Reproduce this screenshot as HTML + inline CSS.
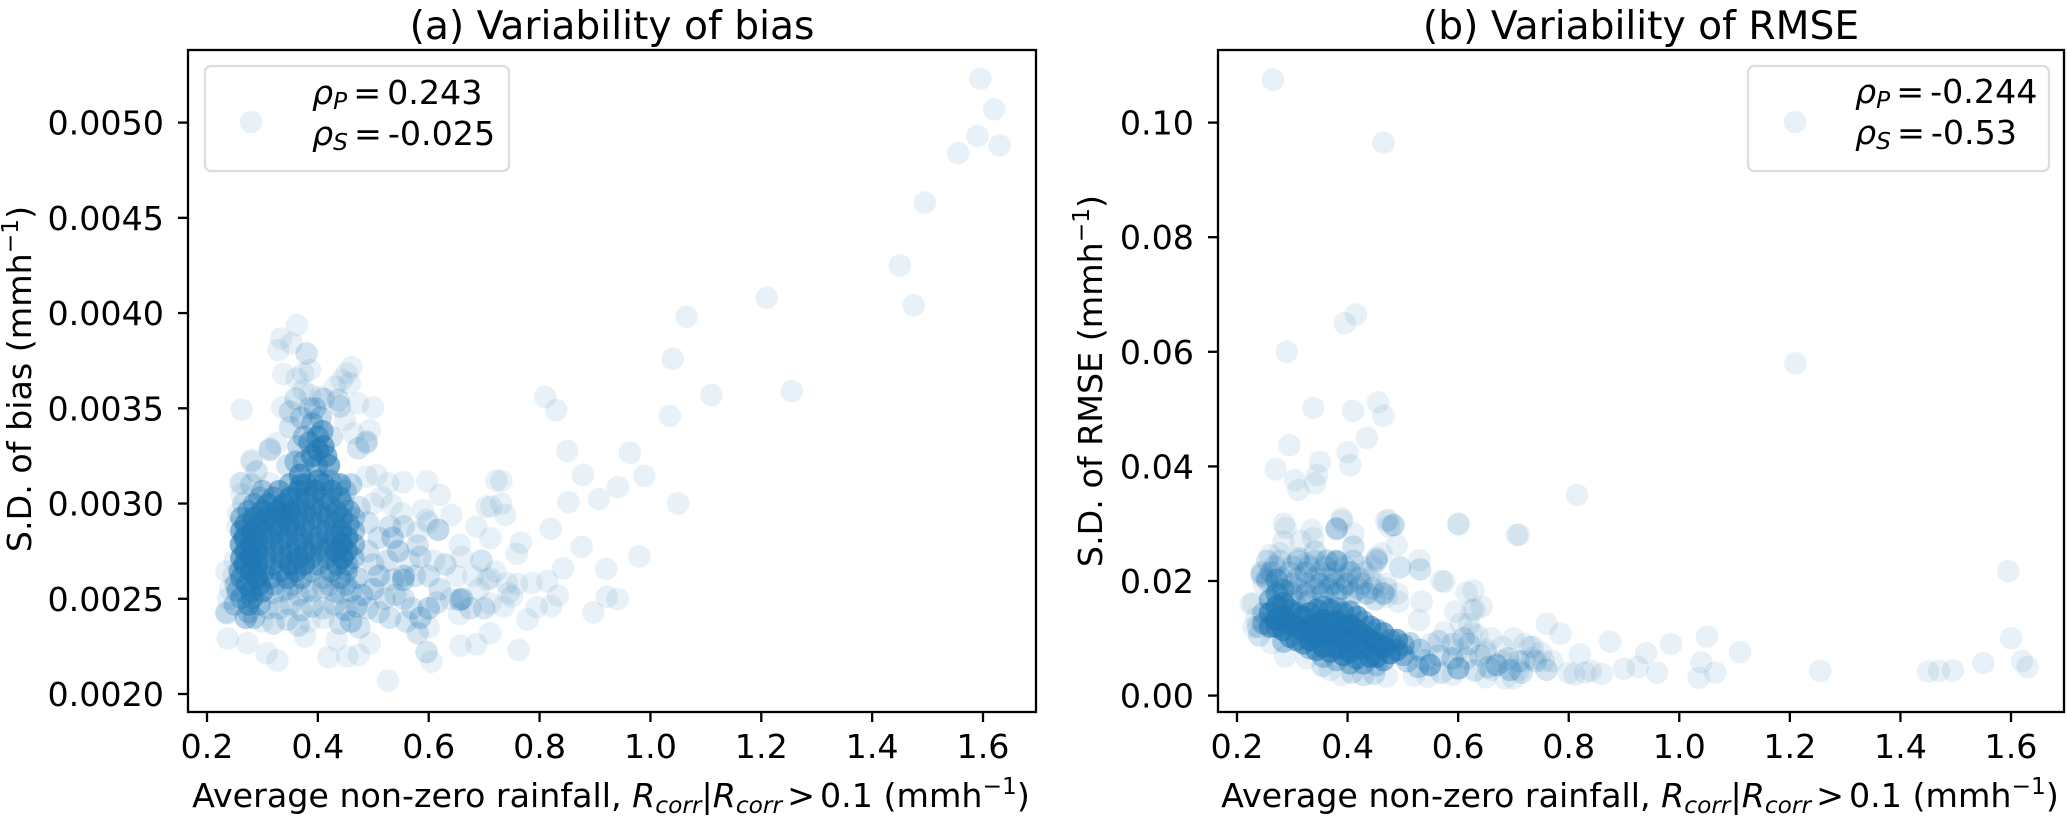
<!DOCTYPE html>
<html lang="en">
<head>
<meta charset="utf-8">
<title>Variability of bias and RMSE</title>
<style>
html,body{margin:0;padding:0;background:#fff;width:2067px;height:817px;overflow:hidden}
svg{display:block}
text{font-family:"DejaVu Sans","Liberation Sans",sans-serif;fill:#000}
.tick{font-size:33.3px}
.lab{font-size:33.3px}
.ttl{font-size:39.2px}
.leg{font-size:33.3px}
.it{font-style:italic}
</style>
</head>
<body>
<svg id="fig" xmlns="http://www.w3.org/2000/svg" width="2067" height="817" viewBox="0 0 2067 817">
  <rect width="2067" height="817" fill="#fff"/>
  <g id="marks-a"></g>
  <g id="marks-b"></g>
  <g id="ticks-a"></g>
  <g id="ticks-b"></g>
  <rect x="188" y="50" width="848" height="662" fill="none" stroke="#000" stroke-width="2.3"/>
  <rect x="1218" y="50" width="846" height="662" fill="none" stroke="#000" stroke-width="2.3"/>

  <text class="ttl" x="612" y="39" text-anchor="middle">(a) Variability of bias</text>
  <text class="ttl" x="1641" y="39" text-anchor="middle">(b) Variability of RMSE</text>

  <text class="lab" x="611" y="807" text-anchor="middle">Average non-zero rainfall, <tspan class="it">R</tspan><tspan class="it" font-size="23.3" dy="6">corr</tspan><tspan dy="-6">|</tspan><tspan class="it">R</tspan><tspan class="it" font-size="23.3" dy="6">corr</tspan><tspan dy="-6" dx="5">&gt;</tspan><tspan dx="5">0.1 (mmh</tspan><tspan font-size="23.3" dy="-13">−1</tspan><tspan dy="13">)</tspan></text>
  <text class="lab" x="1640" y="807" text-anchor="middle">Average non-zero rainfall, <tspan class="it">R</tspan><tspan class="it" font-size="23.3" dy="6">corr</tspan><tspan dy="-6">|</tspan><tspan class="it">R</tspan><tspan class="it" font-size="23.3" dy="6">corr</tspan><tspan dy="-6" dx="5">&gt;</tspan><tspan dx="5">0.1 (mmh</tspan><tspan font-size="23.3" dy="-13">−1</tspan><tspan dy="13">)</tspan></text>

  <text class="lab" text-anchor="middle" transform="translate(31 379) rotate(-90)">S.D. of bias (mmh<tspan font-size="23.3" dy="-13">−1</tspan><tspan dy="13">)</tspan></text>
  <text class="lab" text-anchor="middle" transform="translate(1102 381) rotate(-90)">S.D. of RMSE (mmh<tspan font-size="23.3" dy="-13">−1</tspan><tspan dy="13">)</tspan></text>

  <g>
    <rect x="205" y="66" width="304" height="105" rx="6" fill="#fff" fill-opacity="0.8" stroke="#ddd" stroke-width="2.3"/>
    <circle cx="251" cy="122" r="11.3" fill="#1f77b4" fill-opacity="0.1"/>
    <text class="leg" x="312" y="104"><tspan class="it">ρ</tspan><tspan class="it" font-size="23.3" dy="5">P</tspan><tspan dy="-5" dx="6">=</tspan><tspan dx="6">0.243</tspan></text>
    <text class="leg" x="312" y="145"><tspan class="it">ρ</tspan><tspan class="it" font-size="23.3" dy="5">S</tspan><tspan dy="-5" dx="6">=</tspan><tspan dx="6">-0.025</tspan></text>
  </g>
  <g>
    <rect x="1748" y="66" width="301" height="105" rx="6" fill="#fff" fill-opacity="0.8" stroke="#ddd" stroke-width="2.3"/>
    <circle cx="1795" cy="122" r="11.3" fill="#1f77b4" fill-opacity="0.1"/>
    <text class="leg" x="1855" y="103"><tspan class="it">ρ</tspan><tspan class="it" font-size="23.3" dy="5">P</tspan><tspan dy="-5" dx="6">=</tspan><tspan dx="6">-0.244</tspan></text>
    <text class="leg" x="1855" y="144"><tspan class="it">ρ</tspan><tspan class="it" font-size="23.3" dy="5">S</tspan><tspan dy="-5" dx="6">=</tspan><tspan dx="6">-0.53</tspan></text>
  </g>
</svg>
<script>
const xTickLabels = ['0.2','0.4','0.6','0.8','1.0','1.2','1.4','1.6'];
const biasYTickLabels = ['0.0020','0.0025','0.0030','0.0035','0.0040','0.0045','0.0050'];
const rmseYTickLabels = ['0.00','0.02','0.04','0.06','0.08','0.10'];

/* Panel (a): average rainfall, S.D. of bias, and number of stations overlapping at that spot (default 1) */
const biasRain = [
.3497,.3797,.4097,.4397,.4600,
.2950,.3200,.3500,.3800,.4100,.4400,
.2750,.3000,.3250,.3500,.3780,.4050,.4330,.4560,
.2700,.2950,.3220,.3480,.3750,.4020,.4300,.4550,
.2680,.2900,.3180,.3450,.3720,.4000,.4300,.4530,
.2700,.2900,.3200,.3500,.3780,.4050,.4320,.4520,
.2680,.2900,.3180,.3500,.3750,.4000,.4350,.4530,
.2620,.2900,.3150,.3450,.3700,.4100,.4400,.4700,
.2550,.2800,.3000,.3350,.3800,.4300,.4600,
.2500,.2750,.2950,
.2700,.2850,
.4000,.4100,.3900,.4200,.3980,.3680,.3750,.4220,.3650,.3500,.3900,.4050,.3700,.3850,.4100,.3600,.3450,.4400,
.3000,.3300,.3650,.3950,.4250,.4500,
.2850,.3100,.3380,.3650,.3920,.4200,.4450,
.2620,.2850,.3100,.3370,.3630,.3900,.4180,.4430,.4650,
.2620,.2820,.3050,.3320,.3600,.3870,.4160,.4420,.4650,
.2610,.2800,.3050,.3330,.3620,.3920,.4180,.4430,.4650,
.2620,.2800,.3050,.3340,.3640,.3880,.4180,.4440,.4640,
.2590,.2800,.3030,.3320,.3600,.3880,.4240,.4520,
.2520,.2720,.2950,.3200,.3550,.4200,.4500,
.2620,.2820,
.2750,
.4000,.4080,.3850,.4150,.3700,.4000,.3600,.3950,.3750,.4250,
.31,.33,.35,.37,.39,.41,.43,.45,.47,.49,
.30,.32,.345,.365,.385,.41,.44,.46,.475,
.32,.345,.365,.39,.41,.44,.48,.50,
.51,.535,.50,.525,.545,.49,.51,.535,.49,.475,.50,
.52,.54,.555,.57,.585,.60,.615,.56,.58,.60,.53,.51,
.555,.575,.60,.62,.64,.66,.675,.655,.69,.70,
.565,.585,.61,.58,.63,.65,.68,.705,.66,.695,
.53,.555,.58,.60,.6171,.5539,.656,.596,
.3797,.3496,.4368,.4398,.4879,.4728,.3136,.2895,.2655,.2800,.2354,
.3622,.3334,.3526,.3286,.3376,.3857,.3617,.3737,.2625,.4608,.4518,.4428,.4578,.4308,.5000,.4728,.3358,.3737,.3857,.4037,.4488,.4939,.4638,.2805,.3256,.2595,.5059,.5269,.5149,.4879,
.2560,.2550,.2500,.2480,.2420,.2350,.2380,.2620,.2805,.3135,.2625,.3135,.2354,.4879,
.5263,.2372,.2727,.3075,.3267,.4193,.4530,.4740,.3767,.4337,.4938,.605,.6573,.6862,.5539,.5972,.6201,.5329,.5509,.5900,.6411,.5960,.686,.7042,.6561,
.850,.963,.878,.989,.941,.852,.907,1.050,.820,.876,.980,.920,.842,.814,.833,.821,.921,.941,.897,.795,.778,.762,.786,.766,.759,.731,.722,.738,.731,.713,.711,.720,.711,.744,.750,.735,.760,.741,.711,.711,
1.595,1.62,1.59,1.63,1.555,1.495,1.45,1.475,1.21,1.065,1.04,1.11,1.255,1.035,.81,.83
];
const biasSpread = [
.00310,.00310,.00310,.00310,.00310,
.00303,.00303,.00303,.00303,.00303,.00303,
.00296,.00296,.00296,.00296,.00296,.00296,.00296,.00296,
.00289,.00289,.00289,.00289,.00289,.00289,.00289,.00289,
.00282,.00282,.00282,.00282,.00282,.00282,.00282,.00282,
.00275,.00275,.00275,.00275,.00275,.00275,.00275,.00275,
.00268,.00268,.00268,.00268,.00268,.00268,.00268,.00268,
.00261,.00261,.00261,.00261,.00261,.00261,.00261,.00261,
.00254,.00254,.00254,.00254,.00254,.00254,.00254,
.00247,.00247,.00247,
.00240,.00240,
.00335,.00330,.00325,.00320,.00320,.00315,.00322,.00312,.00330,.00340,.00342,.00345,.00345,.00350,.00355,.00355,.00320,.00310,
.003065,.003065,.003065,.003065,.003065,.003065,
.002995,.002995,.002995,.002995,.002995,.002995,.002995,
.002925,.002925,.002925,.002925,.002925,.002925,.002925,.002925,.002925,
.002855,.002855,.002855,.002855,.002855,.002855,.002855,.002855,.002855,
.002785,.002785,.002785,.002785,.002785,.002785,.002785,.002785,.002785,
.002715,.002715,.002715,.002715,.002715,.002715,.002715,.002715,.002715,
.002645,.002645,.002645,.002645,.002645,.002645,.002645,.002645,
.002575,.002575,.002575,.002575,.002575,.002575,.002575,
.002505,.002505,
.002430,
.00328,.00338,.00332,.00325,.00310,.00312,.00322,.00350,.00335,.00335,
.00245,.00245,.00247,.00244,.00246,.00245,.00247,.00244,.00246,.00245,
.00238,.00237,.00239,.00236,.00238,.00240,.00237,.00238,.00235,
.00253,.00255,.00252,.00254,.00256,.00253,.00252,.00255,
.00262,.00260,.00268,.00270,.00275,.00275,.00282,.00282,.00290,.00298,.00300,
.00250,.00252,.00250,.00245,.00240,.00245,.00248,.00238,.00232,.00235,.00240,.00243,
.00262,.00262,.00262,.00255,.00250,.00250,.00245,.00242,.00255,.00245,
.00270,.00272,.00270,.00278,.00268,.00262,.00262,.00260,.00272,.00270,
.00288,.00288,.00285,.00290,.002862,.002599,.002494,.00222,
.003788,.003482,.003544,.003509,.003325,.003290,.003281,.003167,.00300,.00310,.002424,
.003937,.003867,.003841,.003806,.003680,.003701,.003657,.003683,.003493,.003715,.003684,.003649,.003631,.003614,.003505,.003526,.003505,.003596,.003570,.003561,.003439,.003386,.003369,.003220,.003316,.003106,.003150,.003106,.003036,.003141,
.00295,.00288,.00270,.00262,.00255,.00243,.00250,.00305,.003229,.003290,.003107,.003106,.002643,.003316,
.002070,.002291,.002267,.002214,.002176,.002193,.002197,.002205,.002302,.002284,.002267,.002170,.002253,.002261,.003112,.003117,.003045,.002993,.002949,.002966,.002940,.002914,.002879,.002984,.002783,
.003276,.003266,.003150,.003145,.003085,.003007,.003024,.003000,.002868,.002772,.002723,.002657,.002660,.002592,.002517,.002461,.002510,.002498,.002429,.002456,.002391,.002231,.002582,.002795,.002736,.003120,.003120,.002940,.003000,.002984,.002818,.002643,.002608,.002529,.002512,.002459,.002578,.002582,.002476,.002319,
.00523,.00507,.00493,.00488,.00484,.00458,.00425,.00404,.00408,.00398,.00376,.00357,.00359,.00346,.00356,.00349
];
const biasOverlap = [
6,8,8,5,3,
4,6,10,8,7,6,
5,9,12,12,8,7,7,5,
8,10,10,10,7,6,7,6,
10,12,8,8,8,7,8,8,
10,12,7,8,8,7,10,8,
10,12,6,10,9,5,8,4,
6,12,6,7,5,3,4,3,
4,8,7,2,2,2,3,
3,6,4,
4,3,
6,8,8,8,6,8,4,4,3,2,4,3,3,2,2,2,2,2,
4,6,8,8,6,3,
5,8,10,8,7,7,5,
5,9,10,10,8,7,7,7,3,
7,10,9,8,8,6,7,8,4,
8,12,8,7,8,7,7,10,5,
8,12,7,9,10,6,6,9,4,
6,10,6,7,7,4,5,4,
3,7,8,3,3,2,3,
5,7,
3,
8,6,6,7,8,8,4,3,4,2,
2,2,2,2,2,2,2,3,3,2,
1,2,2,2,1,1,2,3,2,
2,2,2,2,2,2,3,3,
3,2,2,2,3,2,2,3,2,2,1,
2,2,2,2,3,3,2,2,2,1,2,2,
3,2,2,2,1,3,2,1,1,2,
1,2,1,2,2,1,1,1,1,2,
2,2,1,1,3,3,3,2,
2,2,2,2,2,2,2,2,2,2,2
];

/* Panel (b): average rainfall, S.D. of RMSE, and number of overlapping stations (default 1) */
const rmseRain = [
.2718,.2718,.2718,.2718,.2718,
.2477,.2477,
.296,.296,.296,
.32,.32,.32,
.3442,.3442,.3442,.3442,
.3683,.3683,.3683,.3683,
.3924,.3924,.3924,.3924,
.4165,.4165,.4165,.4165,
.4407,.4407,.4407,
.4648,.4648,.4648,
.4889,.4889,
.5130,
.2598,.2598,.2598,
.284,.284,.284,.284,.284,
.3080,.3080,.3080,
.3321,.3321,.3321,.3321,
.3562,.3562,.3562,.3562,.3562,
.3804,.3804,.3804,.3804,.3804,
.4045,.4045,.4045,.4045,.4045,
.4286,.4286,.4286,.4286,
.4527,.4527,.4527,.4527,
.4768,.4768,
.5010,.5010,
.268,.30,.33,.36,.395,.425,.445,
.255,.28,.31,.34,.365,.39,.42,.44,
.275,.31,.34,.365,.39,.42,.445,.47,
.255,.278,.311,.341,.362,.380,.41,.4527,
.245,.262,.295,.325,.350,.375,.405,.43,
.248,.30,.325,.35,.375,.40,.425,.45,.47,
.30,.325,.355,.38,.41,.435,.465,.49,
.305,.33,
.5492,.6005,.6698,.6939,.5280,.5400,.5650,.5900,.6150,.6400,.6200,.5650,.5900,.6100,.6350,.6500,.6550,.6900,.7100,.7150,.5500,.5300,.5080,.5450,.5700,.5900,.6500,.6850,.5200,.6300,.5750,.6050,.6250,.6600,.6800,.7000,.7200,.7400,.7350,.7600,.7700,
.225,.23,.24,.235,.2296,.2380,.2869,.3261,.3683,.3894,.4286,.4708,.2628,.4480,.4080,.3550,
.2881,.335,.3804,.3894,.4105,.4105,.338,.2839,.3150,.2598,.2778,.311,.326,.341,.3804,.3622,.4527,.4618,.4889,.4738,.4829,.4949,.53,.5311,.5341,.5751,.6276,.6426,.6246,.5945,.6011,.7060,.5293,.4919,.4708,.4500,.2447,.2550,.311,.341,
.265,.465,.395,.415,.29,1.21,.338,.41,.455,.465,.435,.40,.295,.35,.405,.27,.305,.345,.815,.60,.71,1.595,.47,.475,.38,.39,.285,
1.6,1.62,1.63,1.55,1.495,1.47,1.45,1.255,1.11,1.05,1.04,1.065,1.035,.985,.96,.94,.925,.90,.875,.86,.84,.83,.81,.82,.785,.76,.735,.72,.755,.80,.70,.71,.73,.68,.66,.65,.62,.615,.60,.57,.63,.75
];
const rmseSpread = [
.02017,.01784,.01552,.01319,.01203,
.01261,.01435,
.01494,.01261,.01028,
.01377,.01145,.00912,
.01494,.01261,.01028,.00796,
.01494,.01261,.01028,.00767,
.01435,.01203,.00970,.00709,
.01377,.01145,.00912,.00650,
.01203,.00970,.00680,
.01087,.00854,.00621,
.00970,.00796,
.00912,
.01668,.01435,.01203,
.01842,.01610,.01377,.01145,.00941,
.01435,.01203,.00970,
.01435,.01203,.00970,.00825,
.01552,.01319,.01087,.00854,.00680,
.01523,.01290,.01057,.00825,.00621,
.01465,.01232,.00999,.00767,.00563,
.01290,.01057,.00825,.00563,
.01145,.00912,.00680,.00534,
.00970,.00738,
.00883,.00709,
.0225,.0225,.0225,.0225,.0225,.0225,.0225,
.0205,.0205,.0205,.0205,.0205,.0205,.0205,.0205,
.0187,.0187,.0187,.0187,.0187,.0187,.0187,.0187,
.0235,.0235,.0235,.0235,.0235,.0235,.0235,.0235,
.0215,.0215,.0215,.0215,.0215,.0215,.0215,.0215,
.0195,.0195,.0195,.0195,.0195,.0195,.0195,.0195,.0195,
.0178,.0178,.0178,.0178,.0178,.0178,.0178,.0178,
.0165,.0165,
.00534,.00476,.00534,.00447,.00500,.00620,.00700,.00650,.00650,.00700,.00900,.00950,.00900,.01000,.01050,.00800,.00500,.00650,.00600,.00400,.00900,.00800,.00600,.00330,.00400,.00360,.00320,.00300,.00350,.00440,.01100,.01250,.0110,.0100,.0085,.0100,.0090,.0060,.0085,.0045,.0060,
.0160,.0120,.0105,.0135,.01610,.01200,.00680,.00650,.00447,.00360,.00360,.00331,.00912,.00380,.00400,.00520,
.02925,.02889,.02918,.03092,.02831,.02598,.02744,.02686,.02700,.02453,.02482,.02395,.02308,.02511,.02337,.02366,.02395,.02482,.02627,.03063,.02976,.02238,.02366,.02203,.01639,.01988,.01831,.01552,.01494,.01464,.02988,.02802,.01319,.01639,.01726,.01680,.02104,.02000,.03587,.03703,
.1075,.0965,.065,.0665,.060,.058,.0502,.0497,.0512,.0488,.0450,.0425,.0437,.0408,.0402,.0395,.0376,.0385,.0350,.0300,.0281,.0217,.0305,.0295,.029,.0305,.0300,
.0100,.0060,.0050,.0057,.0044,.0043,.0042,.0043,.0076,.0103,.0058,.0040,.0031,.0090,.0040,.0074,.0050,.0047,.0094,.0038,.0043,.0040,.0037,.0072,.0108,.0125,.0065,.0060,.0060,.0040,.0030,.0045,.0085,.0060,.0045,.0075,.0125,.0180,.0080,.0200,.0150,.0075
];
const rmseOverlap = [
5,6,10,12,8,
5,3,
10,12,8,
10,12,8,
8,12,12,8,
8,12,12,8,
8,12,12,10,
8,12,12,8,
8,12,10,
8,12,6,
8,8,
3,
6,10,8,
6,8,12,10,4,
8,12,8,
8,12,12,4,
6,12,12,12,4,
6,12,12,12,4,
6,12,12,12,5,
6,12,12,5,
6,12,10,3,
6,10,
5,5,
2,2,2,2,2,1,1,
2,2,2,2,2,2,2,1,
2,2,2,3,3,2,2,1,
2,2,2,2,2,3,2,2,
2,3,2,3,2,2,3,1,
1,2,2,3,3,3,2,1,1,
3,3,3,3,3,3,3,1,
2,3,
6,5,4,3,3,2,2,3,2,2,2,2,2,2,1,1,2,2,2,2,1,3,3,1,2,1,1,1,1,2,1,1,1,1,1,1,1,2,1,2,1,
1,1,2,1,1,2,1,1,1,1,2,1,1,2,2,2,
1,1,3,1,1,2,1,1,1,1,1,2,1,2,3,1,2,1,1,1,3,2,1,2,1,1,1,1,1,1,1,1,1,1,1,2,2,2
];

const NS = 'http://www.w3.org/2000/svg';
const ALPHA = 0.1;

function linear(d0, d1, r0, r1) {
  return function (v) { return r0 + (v - d0) * (r1 - r0) / (d1 - d0); };
}

function drawPoints(groupId, rain, spread, overlap, xScale, yScale) {
  const g = document.getElementById(groupId);
  const n = Math.min(rain.length, spread.length);
  for (let i = 0; i < n; i++) {
    const c = document.createElementNS(NS, 'circle');
    
    
    c.setAttribute('cx', xScale(rain[i]));
    c.setAttribute('cy', yScale(spread[i]));
    c.setAttribute('r', 11.3);
    c.setAttribute('fill', '#1f77b4');
    const k = overlap[i] || 1;
    c.setAttribute('fill-opacity', (1 - Math.pow(1 - ALPHA, k)).toFixed(4));
    g.appendChild(c);
  }
}

function drawTicks(groupId, xLabels, yLabels, xScale, yScale, left, bottom) {
  const g = document.getElementById(groupId);
  xLabels.forEach(function (lab) {
    const px = xScale(Number(lab));
    const line = document.createElementNS(NS, 'line');
    
    
    line.setAttribute('x1', px);
    line.setAttribute('x2', px);
    line.setAttribute('y1', bottom);
    line.setAttribute('y2', bottom + 10);
    line.setAttribute('stroke', '#000');
    line.setAttribute('stroke-width', 2.3);
    g.appendChild(line);
    const t = document.createElementNS(NS, 'text');
    
    
    t.setAttribute('class', 'tick');
    t.setAttribute('x', px);
    t.setAttribute('y', 758);
    t.setAttribute('text-anchor', 'middle');
    t.textContent = lab;
    g.appendChild(t);
  });
  yLabels.forEach(function (lab) {
    const py = yScale(Number(lab));
    const line = document.createElementNS(NS, 'line');
    
    
    line.setAttribute('x1', left - 10);
    line.setAttribute('x2', left);
    line.setAttribute('y1', py);
    line.setAttribute('y2', py);
    line.setAttribute('stroke', '#000');
    line.setAttribute('stroke-width', 2.3);
    g.appendChild(line);
    const t = document.createElementNS(NS, 'text');
    
    
    t.setAttribute('class', 'tick');
    t.setAttribute('x', left - 24);
    t.setAttribute('y', py + 12);
    t.setAttribute('text-anchor', 'end');
    t.textContent = lab;
    g.appendChild(t);
  });
}

const xA = linear(0.2, 1.6, 207, 983);
const yA = linear(0.002, 0.005, 694, 122.6);
const xB = linear(0.2, 1.6, 1237, 2011);
const yB = linear(0, 0.1, 695.6, 122.6);

drawPoints('marks-a', biasRain, biasSpread, biasOverlap, xA, yA);
drawPoints('marks-b', rmseRain, rmseSpread, rmseOverlap, xB, yB);
drawTicks('ticks-a', xTickLabels, biasYTickLabels, xA, yA, 188, 712);
drawTicks('ticks-b', xTickLabels, rmseYTickLabels, xB, yB, 1218, 712);
</script>
</body>
</html>
